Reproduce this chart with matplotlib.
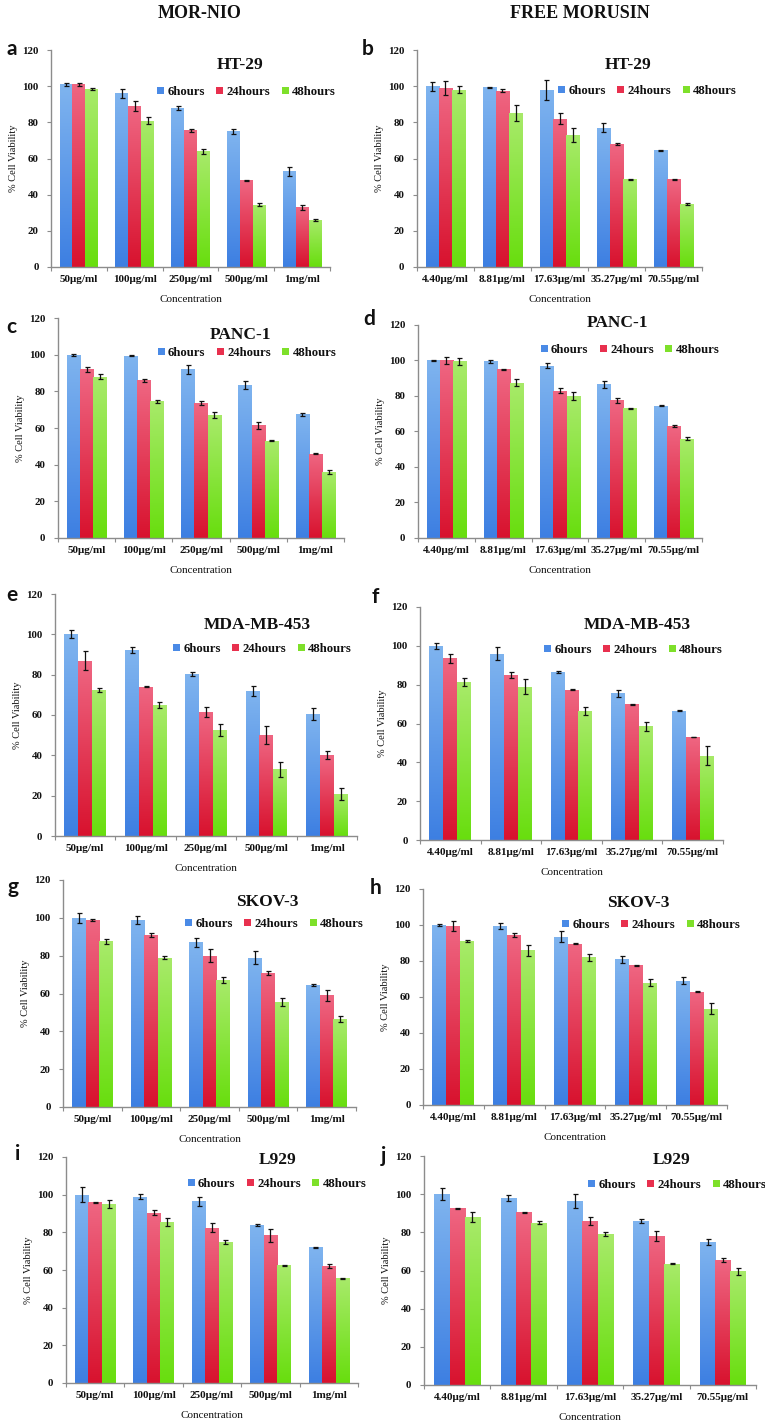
import matplotlib.pyplot as plt
import numpy as np
from matplotlib.colors import LinearSegmentedColormap
from matplotlib.patches import Rectangle

plt.rcParams['font.family'] = ['Liberation Serif', 'DejaVu Serif']
plt.rcParams['font.weight'] = 'bold'
plt.rcParams['axes.edgecolor'] = '#8c8c8c'
plt.rcParams['xtick.color'] = '#8c8c8c'
plt.rcParams['ytick.color'] = '#8c8c8c'

# ---------------- data ----------------
hours = ['6hours', '24hours', '48hours']
conc_nio = ['50μg/ml', '100μg/ml', '250μg/ml', '500μg/ml', '1mg/ml']
conc_free = ['4.40μg/ml', '8.81μg/ml', '17.63μg/ml', '35.27μg/ml', '70.55μg/ml']

# rows: 6h, 24h, 48h
ht29_nio = [[101, 96, 88, 75, 53], [101, 89, 75.5, 48, 33], [98.5, 81, 64, 34.5, 26]]
ht29_nio_err = [[1, 2.5, 1, 1.5, 2.5], [1, 3, 1, 0.3, 1.5], [0.5, 2, 1.5, 1, 0.5]]
ht29_free = [[100, 99.5, 98, 77, 64.5], [99, 97.5, 82, 68, 48.5], [98, 85, 73, 48.5, 35]]
ht29_free_err = [[2.5, 0.3, 5.5, 2.5, 0.3], [4, 1, 3, 0.5, 0.3], [2, 4.5, 4, 0.3, 0.5]]

panc_nio = [[100, 99.5, 92, 83.5, 67.5], [92, 86, 73.5, 61.5, 46], [88, 74.5, 67, 53, 36]]
panc_nio_err = [[0.5, 0.3, 2.5, 2, 0.8], [1.5, 0.8, 1, 2, 0.3], [1.5, 1, 1.5, 0.3, 1.2]]
panc_free = [[100, 99.5, 97, 86.5, 74.5], [100, 95, 83, 77.5, 63], [99.5, 87.5, 80, 73, 56]]
panc_free_err = [[0.3, 1, 1.5, 2, 0.2], [2, 0.3, 1.5, 1.5, 0.5], [2, 2, 2, 0.3, 1]]

mda_nio = [[100, 92, 80.5, 72, 60.5], [87, 74, 61.5, 50, 40], [72.5, 65, 52.5, 33, 21]]
mda_nio_err = [[2, 1.5, 1, 2.5, 3], [4.5, 0.3, 2.5, 4.5, 2], [1, 1.5, 3, 3.5, 3]]
mda_free = [[100, 96, 86.5, 75.5, 66.5], [93.5, 85, 77.5, 70, 53], [81.5, 79, 66.5, 58.5, 43.5]]
mda_free_err = [[1.5, 3.5, 0.5, 2, 0.3], [2.5, 1.5, 0.3, 0.3, 0.2], [2, 4, 2, 2.5, 5]]

skov_nio = [[100, 99, 87, 79, 64.5], [99, 91, 80, 71, 59], [87.5, 79, 67, 55.5, 46.5]]
skov_nio_err = [[2.5, 2, 2.5, 3.5, 0.3], [0.5, 1, 3.5, 1, 3], [1.5, 1, 1.5, 2, 1.5]]
skov_free = [[100, 99.5, 93.5, 81, 69], [99.5, 94.5, 89.5, 77.5, 63], [91, 86, 82, 68, 53.5]]
skov_free_err = [[0.5, 1.5, 3, 2, 2], [3, 1, 0.3, 0.3, 0.3], [0.5, 3, 2, 2, 3]]

l929_nio = [[100, 99, 96.5, 84, 72], [96, 90.5, 82.5, 78.5, 62], [95, 85.5, 75, 62.5, 55.5]]
l929_nio_err = [[4, 1.5, 2.5, 0.5, 0.3], [0.3, 1.2, 2.5, 3.5, 1.2], [2, 2, 1, 0.3, 0.5]]
l929_free = [[100, 98, 96.5, 86, 75], [92.5, 90.5, 86, 78, 65.5], [88, 85, 79, 63.5, 59.5]]
l929_free_err = [[3, 1.5, 3.5, 1, 1.5], [0.3, 0.3, 2, 2.5, 1], [2.5, 0.8, 1, 0.3, 2]]

# gradient colours (bottom, top) per series
grad_colors = [('#3d7fe2', '#7fb4ef'), ('#d8122e', '#ef6682'), ('#68de0e', '#a8ea6a')]
legend_colors = ['#4a8ae6', '#e8304e', '#7ee02a']

fig = plt.figure(figsize=(7.65, 14.2), dpi=100)
W, H = 765.0, 1420.0


def px_rect(l, t, r, b):
    return [l / W, 1 - b / H, (r - l) / W, (b - t) / H]


def fx(x):
    return x / W


def fy(y):
    return 1 - y / H


# letter, title, labels, values, errors, axes box (l, t, r, b), title xy, legend (x0, x1, y), letter xy
panels = [
    ('a', 'HT-29', conc_nio, ht29_nio, ht29_nio_err, (51, 50, 330, 267), (240, 65), (160, 333, 92), (12, 49)),
    ('b', 'HT-29', conc_free, ht29_free, ht29_free_err, (417, 50, 702, 267), (628, 65), (563, 732, 91), (368, 49)),
    ('c', 'PANC-1', conc_nio, panc_nio, panc_nio_err, (58, 318, 344, 538), (240, 335), (157, 337, 353), (11, 327)),
    ('d', 'PANC-1', conc_free, panc_free, panc_free_err, (418, 325, 702, 538), (617, 323), (543, 717, 350), (369, 319)),
    ('e', 'MDA-MB-453', conc_nio, mda_nio, mda_nio_err, (55, 594, 357, 836), (257, 625), (183, 342, 649), (12, 595)),
    ('f', 'MDA-MB-453', conc_free, mda_free, mda_free_err, (420, 607, 723, 840), (637, 625), (550, 717, 650), (375, 597)),
    ('g', 'SKOV-3', conc_nio, skov_nio, skov_nio_err, (63, 880, 356, 1107), (267, 902), (197, 352, 924), (13, 887)),
    ('h', 'SKOV-3', conc_free, skov_free, skov_free_err, (423, 889, 727, 1105), (638, 903), (568, 735, 925), (376, 888)),
    ('i', 'L929', conc_nio, l929_nio, l929_nio_err, (66, 1157, 358, 1383), (278, 1160), (197, 357, 1184), (18, 1154)),
    ('j', 'L929', conc_free, l929_free, l929_free_err, (424, 1156, 756, 1385), (672, 1160), (593, 762, 1185), (383, 1156)),
]

grad = np.linspace(0, 1, 128).reshape(-1, 1)
bar_w = 0.23

for letter, title, labels, vals, errs, box, tpos, lpos, letpos in panels:
    ax = fig.add_axes(px_rect(*box))
    x = np.arange(len(labels))
    for k in range(3):
        cmap = LinearSegmentedColormap.from_list('g%d' % k, grad_colors[k])
        bars = ax.bar(x + (k - 1) * bar_w, vals[k], bar_w, color=grad_colors[k][0],
                      edgecolor='none', zorder=2)
        for bar in bars:
            bx, bw, bh = bar.get_x(), bar.get_width(), bar.get_height()
            im = ax.imshow(grad, extent=[bx, bx + bw, 0, bh], cmap=cmap, origin='lower',
                           aspect='auto', zorder=2.1, interpolation='bicubic')
            im.set_clip_path(bar)
        ax.errorbar(x + (k - 1) * bar_w, vals[k], yerr=errs[k], fmt='none', ecolor='#111111',
                    elinewidth=0.9, capsize=1.8, capthick=0.9, zorder=3)

    ax.set_xlim(-0.5, len(labels) - 0.5)
    ax.set_ylim(0, 120)
    ax.set_yticks(np.arange(0, 121, 20))
    ax.set_xticks(x)
    ax.set_xticklabels(labels, fontsize=8, color='#111111')
    ax.set_xticks(np.arange(-0.5, len(labels), 1.0), minor=True)
    ax.tick_params(axis='x', which='major', length=0, pad=6)
    ax.tick_params(axis='x', which='minor', length=3, width=0.8, direction='out')
    ax.tick_params(axis='y', length=3, width=0.8, labelsize=7.8, labelcolor='#111111', pad=6)
    for s in ['top', 'right']:
        ax.spines[s].set_visible(False)
    ax.spines['left'].set_linewidth(1.0)
    ax.spines['bottom'].set_linewidth(1.0)

    l, t, r, b = box
    ax.set_ylabel('% Cell Viability', fontsize=7.5, color='#111111')
    ax.yaxis.set_label_coords(-33.0 / (r - l), 0.5)
    ax.set_xlabel('Concentration', fontsize=8, color='#111111')
    ax.xaxis.set_label_coords(0.5, -28.0 / (b - t))

    fig.text(fx(tpos[0]), fy(tpos[1]), title, fontsize=12.5, ha='center', va='center', color='#111111')

    handles = [Rectangle((0, 0), 1, 1, facecolor=c, edgecolor='none') for c in legend_colors]
    fig.legend(handles, hours, loc='center', bbox_to_anchor=(fx((lpos[0] + lpos[1]) / 2), fy(lpos[2])),
               ncol=3, frameon=False, fontsize=9.2, handlelength=0.55, handleheight=0.55,
               handletextpad=0.25, columnspacing=0.9, borderpad=0, borderaxespad=0,
               labelcolor='#111111')

    fig.text(fx(letpos[0]), fy(letpos[1]), letter, fontsize=15, fontweight='bold',
             family=['Lato', 'DejaVu Sans'], ha='center', va='center', color='#111111')

fig.text(fx(200), fy(13), 'MOR-NIO', fontsize=13, ha='center', va='center', color='#111111')
fig.text(fx(580), fy(13), 'FREE MORUSIN', fontsize=13, ha='center', va='center', color='#111111')

fig.savefig('out.png', dpi=100)
